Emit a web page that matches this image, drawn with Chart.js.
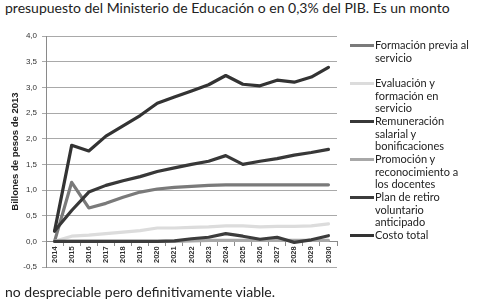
<!DOCTYPE html>
<html>
<head>
<meta charset="utf-8">
<script src="https://cdn.jsdelivr.net/npm/chart.js@4/dist/chart.umd.min.js"></script>
<style>
  html, body { margin: 0; padding: 0; background: #fff; }
  body { width: 480px; height: 304px; position: relative; overflow: hidden; }
  #c { position: absolute; left: 0; top: 0; }
  .para { position: absolute; left: 5px; font-family: Lato, "Open Sans", sans-serif; font-size: 14px; color: #222; white-space: nowrap; line-height: 16px; }
  #legend { position: absolute; left: 0; top: 0; width: 480px; height: 304px; pointer-events: none; }
  .li { position: absolute; left: 350px; font-family: Lato, "Open Sans", sans-serif; font-size: 11px; line-height: 12.6px; color: #222; }
  .li .sw { position: absolute; left: 0; top: 5px; width: 24px; height: 3px; }
  .li .tx { position: absolute; left: 25px; top: 0; width: 97px; }
</style>
</head>
<body>
<div class="para" style="top:0px;">presupuesto del Ministerio de Educación o en 0,3% del PIB. Es un monto</div>
<canvas id="c" width="480" height="304"></canvas>
<div id="legend"></div>
<div class="para" style="top:284px;">no despreciable pero definitivamente viable.</div>
<script>
const years = ["2014","2015","2016","2017","2018","2019","2020","2021","2022","2023","2024","2025","2026","2027","2028","2029","2030"];
const seriesNames = ["Formación previa al servicio","Evaluación y formación en servicio","Remuneración salarial y bonificaciones","Promoción y reconocimiento a los docentes","Plan de retiro voluntario anticipado","Costo total"];
const formacionPrevia = [0, 1.15, 0.65, 0.74, 0.86, 0.96, 1.02, 1.05, 1.07, 1.09, 1.10, 1.10, 1.10, 1.10, 1.10, 1.10, 1.10];
const evaluacion = [0, 0.10, 0.12, 0.15, 0.18, 0.21, 0.26, 0.26, 0.27, 0.28, 0.30, 0.30, 0.28, 0.29, 0.29, 0.30, 0.34];
const remuneracion = [0.20, 0.60, 0.96, 1.09, 1.18, 1.26, 1.36, 1.43, 1.50, 1.56, 1.67, 1.50, 1.56, 1.61, 1.68, 1.73, 1.79];
const promocion = [0, 0, 0, 0, 0, 0, 0, 0, 0.01, 0.02, 0.02, 0.02, 0.02, 0.02, 0.02, 0.02, 0.02];
const planRetiro = [0, 0, 0, 0, 0, 0, 0, 0.01, 0.05, 0.08, 0.15, 0.10, 0.04, 0.08, -0.02, 0.03, 0.11];
const costoTotal = [0.20, 1.87, 1.76, 2.05, 2.25, 2.45, 2.69, 2.81, 2.93, 3.05, 3.23, 3.06, 3.03, 3.14, 3.10, 3.20, 3.39];
const yTicks = [-0.5, 0, 0.5, 1, 1.5, 2, 2.5, 3, 3.5, 4];
const yTitle = "Billones de pesos de 2013";

const seriesData = [formacionPrevia, evaluacion, remuneracion, promocion, planRetiro, costoTotal];
const colors = ["#7a7a7a", "#dcdcdc", "#383838", "#a8a8a8", "#3c3c3c", "#333333"];
const n = seriesData.length;

const datasets = seriesData.map((d, i) => ({
  label: seriesNames[i],
  data: d,
  borderColor: colors[i],
  backgroundColor: colors[i],
  borderWidth: 3.2,
  pointRadius: 0,
  tension: 0,
  borderJoinStyle: 'round',
  borderCapStyle: 'round',
  fill: false,
  order: n - i
}));

new Chart(document.getElementById('c'), {
  type: 'line',
  data: { labels: years, datasets },
  options: {
    responsive: false,
    animation: false,
    devicePixelRatio: 1,
    layout: { padding: { left: 10, top: 36, right: 143, bottom: 37 } },
    plugins: { legend: { display: false }, tooltip: { enabled: false } },
    scales: {
      y: {
        min: -0.5, max: 4,
        afterBuildTicks: s => { s.ticks = yTicks.map(v => ({ value: v })); },
        afterFit: s => { s.width = 36; },
        ticks: {
          callback: v => Number(v).toFixed(1).replace('.', ','),
          font: { family: "'Liberation Sans', Arial, sans-serif", size: 8 },
          color: '#333',
          padding: 5
        },
        grid: { color: '#a9a9a9', lineWidth: 1, tickLength: 4 },
        border: { color: '#8a8a8a' },
        title: {
          display: true, text: yTitle,
          font: { family: "'Liberation Sans', Arial, sans-serif", size: 9.5, weight: 'bold' },
          color: '#222', padding: 0
        }
      },
      x: {
        position: { y: 0 },
        offset: true,
        grid: { offset: true, drawOnChartArea: false, tickLength: 4, color: '#8a8a8a' },
        border: { color: '#8a8a8a' },
        ticks: {
          minRotation: 90, maxRotation: 90, autoSkip: false,
          font: { family: "'Liberation Sans', Arial, sans-serif", size: 7.5, weight: 'bold' },
          color: '#333', padding: 1
        }
      }
    }
  }
});

const legendTops = [39, 77, 115, 153, 191, 229];
const lg = document.getElementById('legend');
seriesNames.forEach((name, i) => {
  const d = document.createElement('div');
  d.className = 'li';
  d.style.top = legendTops[i] + 'px';
  const sw = document.createElement('div');
  sw.className = 'sw';
  sw.style.background = colors[i];
  const tx = document.createElement('div');
  tx.className = 'tx';
  tx.textContent = name;
  d.appendChild(sw); d.appendChild(tx);
  lg.appendChild(d);
});
</script>
</body>
</html>
